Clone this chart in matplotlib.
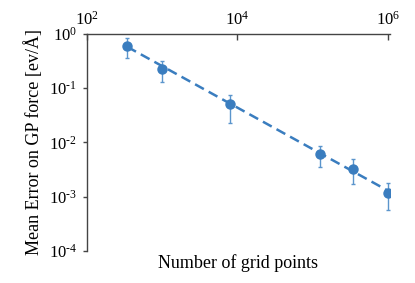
import matplotlib
matplotlib.use('Agg')
import matplotlib.pyplot as plt
import matplotlib.ticker as mticker
import numpy as np

# --- data ---
grid_points = [343, 1000, 8000, 125000, 343000, 1000000]
mean_error = [0.61, 0.222, 0.0506, 0.00617, 0.0033, 0.00117]
err_upper = [0.83, 0.312, 0.0764, 0.0088, 0.0049, 0.00177]
err_lower = [0.365, 0.131, 0.0225, 0.00354, 0.00169, 0.00058]

fit_x = [343, 1000000]
fit_y = [0.58, 0.0013]

x_ticks = [1e2, 1e4, 1e6]
y_ticks = [1e-4, 1e-3, 1e-2, 1e-1, 1e0]

# --- style ---
plt.rcParams['font.family'] = ['Liberation Serif', 'DejaVu Serif']
plt.rcParams['mathtext.fontset'] = 'custom'
plt.rcParams['mathtext.rm'] = 'Liberation Serif'
plt.rcParams['mathtext.it'] = 'Liberation Serif:italic'
plt.rcParams['mathtext.bf'] = 'Liberation Serif:bold'
blue = '#3a7dbf'
err_blue = '#5b95cc'
spine_col = '#444444'


def pow_label(val, pos):
    e = int(round(np.log10(val)))
    return r'$10^{\text{%d}}$' % e


fig = plt.figure(figsize=(4.15, 2.83), dpi=100)
ax = fig.add_axes([0.2096, 0.1131, 0.730, 0.7668])

yerr = [[m - lo for m, lo in zip(mean_error, err_lower)],
        [hi - m for m, hi in zip(mean_error, err_upper)]]

# dashed trend line
ax.plot(fit_x, fit_y, linestyle=(0, (4, 2.2)), color=blue, linewidth=1.8, zorder=2)

# points with error bars
ax.errorbar(grid_points, mean_error, yerr=yerr, fmt='none', ecolor=err_blue,
            elinewidth=1.0, capsize=1.5, capthick=1.0, zorder=3)
ax.plot(grid_points, mean_error, 'o', color=blue, markersize=6.5, zorder=4)

ax.set_xscale('log')
ax.set_yscale('log')
ax.set_xlim(100, 1.07e6)
ax.set_ylim(1e-4, 1)

ax.xaxis.tick_top()
ax.xaxis.set_label_position('bottom')
ax.set_xticks(x_ticks)
ax.set_yticks(y_ticks)
ax.xaxis.set_minor_locator(mticker.NullLocator())
ax.yaxis.set_minor_locator(mticker.NullLocator())
ax.xaxis.set_major_formatter(mticker.FuncFormatter(pow_label))
ax.yaxis.set_major_formatter(mticker.FuncFormatter(pow_label))

ax.tick_params(axis='x', which='major', direction='in', length=4, width=1,
               color=spine_col, labelsize=12, pad=4)
ax.tick_params(axis='y', which='major', direction='out', length=3, width=1,
               color=spine_col, labelsize=12, pad=4)

for side in ['bottom', 'right']:
    ax.spines[side].set_visible(False)
for side in ['top', 'left']:
    ax.spines[side].set_color(spine_col)
    ax.spines[side].set_linewidth(1.0)

ax.set_xlabel('Number of grid points', fontsize=13, labelpad=2)
ax.set_ylabel('Mean Error on GP force [ev/Å]', fontsize=13, labelpad=4)

plt.savefig('out.png', dpi=100)
